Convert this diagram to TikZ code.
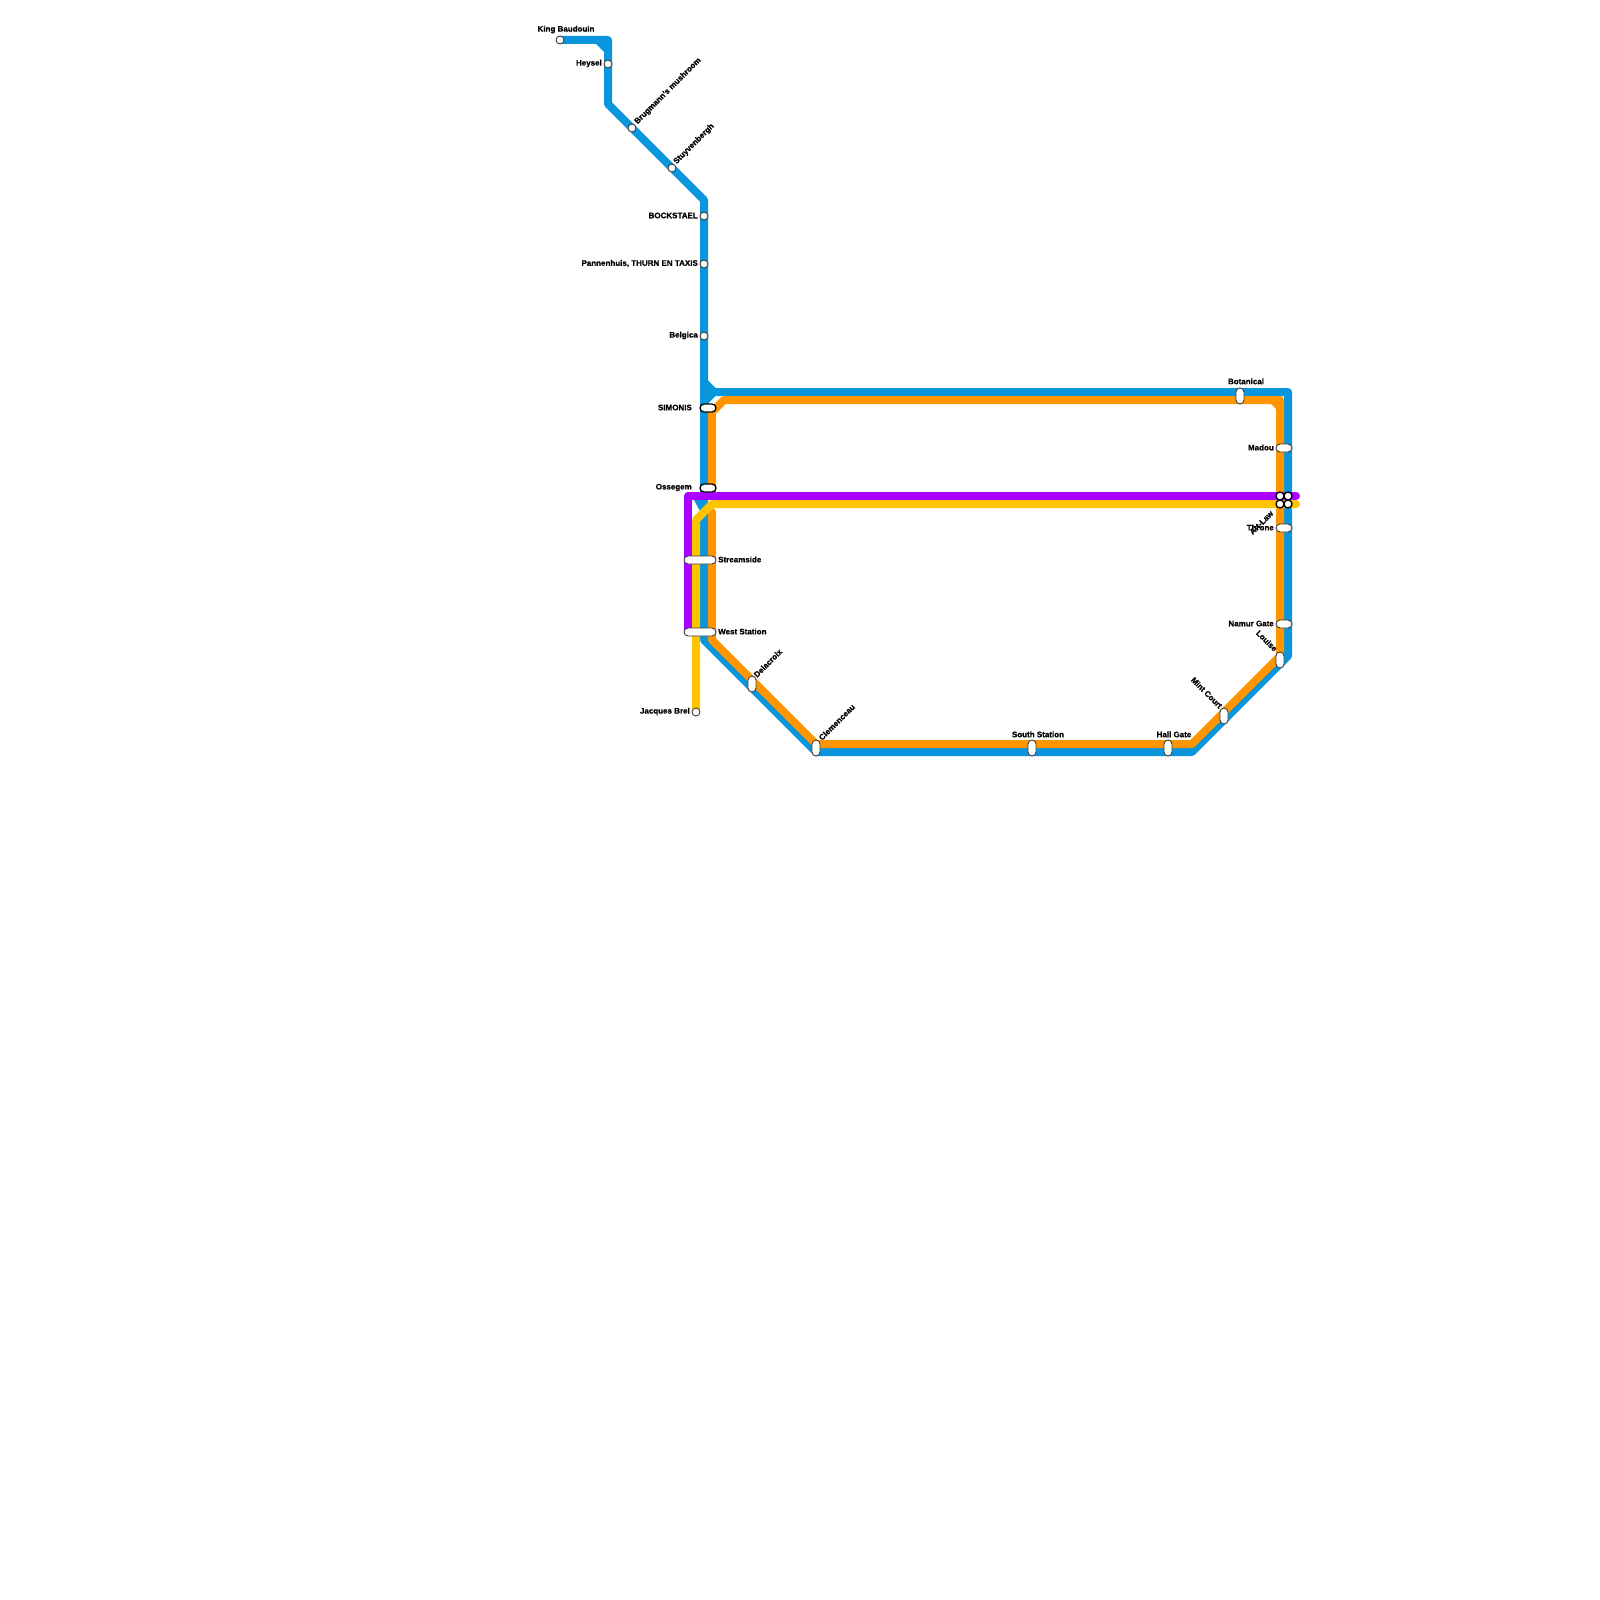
\documentclass[tikz,border=0pt]{standalone}
\usepackage{fontspec}
\setmainfont[FakeBold=0.6]{Liberation Sans}
\usepackage{xcolor}
\definecolor{lineblue}{RGB}{9,150,220}
\definecolor{lineorange}{RGB}{255,149,0}
\definecolor{linepurple}{RGB}{170,0,255}
\definecolor{lineyellow}{RGB}{255,196,0}
\definecolor{stopedge}{RGB}{60,60,60}
\tikzset{
  route/.style   ={line width=8pt, line join=round, line cap=round},
  stopc/.style   ={circle, draw=stopedge, fill=white, line width=0.9pt, minimum size=8pt, inner sep=0pt},
  stopcb/.style  ={circle, draw=black, fill=white, line width=1.3pt, minimum size=8pt, inner sep=0pt},
  pillh/.style   ={rectangle, rounded corners=4pt, draw=stopedge, fill=white, line width=0.9pt, minimum width=#1, minimum height=8pt, inner sep=0pt},
  pillhb/.style  ={rectangle, rounded corners=4pt, draw=black, fill=white, line width=1.3pt, minimum width=#1, minimum height=8pt, inner sep=0pt},
  pillv/.style   ={rectangle, rounded corners=4pt, draw=stopedge, fill=white, line width=0.9pt, minimum width=8pt, minimum height=16pt, inner sep=0pt},
  lab/.style     ={font=\fontsize{8}{8}\bfseries\selectfont, text=black, inner sep=0pt},
}
\begin{document}
\begin{tikzpicture}[x=1pt,y=-1pt]
  \useasboundingbox (0,0) rectangle (1600,1600);
  % blue
  \draw[route,lineblue] (560,40) -- (608,40) -- (608,104) -- (704,200) -- (704,496);
  \draw[route,lineblue] (704,382) -- (714,392) -- (1288,392) -- (1288,656) -- (1192,752) -- (816,752) -- (704,640) -- (704,512);
  \draw[route,lineblue] (714,392) -- (704,402);
  \fill[lineblue] (596,44) -- (604,44) -- (604,52) -- cycle;
  \fill[lineblue] (694,500) -- (708,500) -- (708,504) -- (700,511) -- cycle;
  % orange
  \draw[route,lineorange] (712,496) -- (712,412) -- (724,400) -- (1280,400) -- (1280,656) -- (1192,744) -- (816,744) -- (712,640) -- (712,512);
  \fill[lineorange] (1271,404) -- (1276,404) -- (1276,409) -- cycle;
  % purple
  \draw[route,linepurple] (1296,496) -- (688,496) -- (688,632);
  % yellow
  \draw[route,lineyellow] (1296,504) -- (712,504) -- (696,520) -- (696,712);
  % stations
  \node[stopc] (kingbaudouin) at (560,40) {};
  \node[stopc] (heysel) at (608,64) {};
  \node[stopc] (brugmann) at (632,128) {};
  \node[stopc] (stuyvenbergh) at (672,168) {};
  \node[stopc] (bockstael) at (704,216) {};
  \node[stopc] (pannenhuis) at (704,264) {};
  \node[stopc] (belgica) at (704,336) {};
  \node[pillhb=16pt] (simonis) at (708,408) {};
  \node[pillhb=16pt] (ossegem) at (708,488) {};
  \node[pillh=32pt] (streamside) at (700,560) {};
  \node[pillh=32pt] (weststation) at (700,632) {};
  \node[stopc] (jacquesbrel) at (696,712) {};
  \node[pillv] (delacroix) at (752,684) {};
  \node[pillv] (clemenceau) at (816,748) {};
  \node[pillv] (southstation) at (1032,748) {};
  \node[pillv] (hallgate) at (1168,748) {};
  \node[pillv] (mintcourt) at (1224,716) {};
  \node[pillv] (louise) at (1280,660) {};
  \node[pillh=16pt] (namurgate) at (1284,624) {};
  \node[pillh=16pt] (throne) at (1284,528) {};
  \node[pillh=16pt] (madou) at (1284,448) {};
  \node[pillv] (botanical) at (1240,396) {};
  \node[stopcb] (artlawa) at (1280,496) {};
  \node[stopcb] (artlawb) at (1288,496) {};
  \node[stopcb] (artlawc) at (1280,504) {};
  \node[stopcb] (artlawd) at (1288,504) {};
  % labels
  \node[lab,above] at (566,33.5) {King Baudouin};
  \node[lab,left] at (602,63.5) {Heysel};
  \node[lab,anchor=west,rotate=45] at (636,123) {Brugmann’s mushroom};
  \node[lab,anchor=west,rotate=45] at (675,163) {Stuyvenbergh};
  \node[lab,left] at (698,215.5) {BOCKSTAEL};
  \node[lab,left] at (698,263.5) {Pannenhuis, THURN EN TAXIS};
  \node[lab,left] at (698,335.5) {Belgica};
  \node[lab,left] at (692,407.5) {SIMONIS};
  \node[lab,left] at (692,487.5) {Ossegem};
  \node[lab,right] at (718,559.5) {Streamside};
  \node[lab,right] at (718,631.5) {West Station};
  \node[lab,left] at (690,711.5) {Jacques Brel};
  \node[lab,anchor=west,rotate=45] at (755,676) {Delacroix};
  \node[lab,anchor=west,rotate=45] at (820,739) {Clemenceau};
  \node[lab,above] at (1038,737.5) {South Station};
  \node[lab,above] at (1174,737.5) {Hall Gate};
  \node[lab,anchor=east,rotate=-45] at (1221,707) {Mint Court};
  \node[lab,anchor=east,rotate=-45] at (1276,650) {Louise};
  \node[lab,left] at (1274,623.5) {Namur Gate};
  \node[lab,left] at (1274,527.5) {Throne};
  \node[lab,anchor=east,rotate=45] at (1272,512) {Art-Law};
  \node[lab,left] at (1274,447.5) {Madou};
  \node[lab,above] at (1246,384.5) {Botanical};
\end{tikzpicture}
\end{document}
